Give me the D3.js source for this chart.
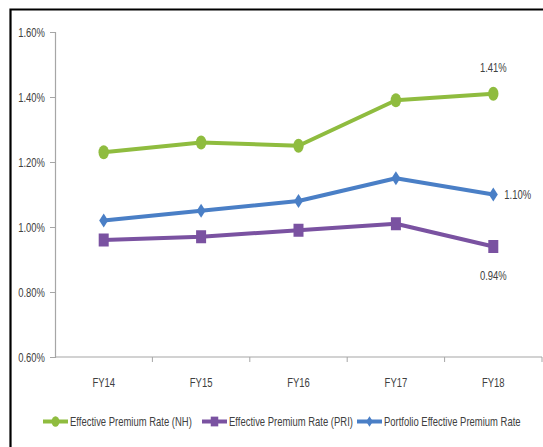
<!DOCTYPE html>
<html>
<head>
<meta charset="utf-8">
<script src="https://cdn.jsdelivr.net/npm/d3@7"></script>
<style>
  html, body { margin: 0; padding: 0; background: #fff; }
  svg { display: block; }
  text { font-family: "Liberation Sans", Arial, sans-serif; fill: #404040; }
</style>
</head>
<body>
<svg id="chart" width="543" height="447"></svg>
<script>
// Fiscal years on the category axis
const years = ["FY14", "FY15", "FY16", "FY17", "FY18"];
// Effective premium rates, in percent
const rateNH = [1.23, 1.26, 1.25, 1.39, 1.41];
const ratePRI = [0.96, 0.97, 0.99, 1.01, 0.94];
const ratePortfolio = [1.02, 1.05, 1.08, 1.15, 1.10];
// Value axis ticks
const yTicks = [0.6, 0.8, 1.0, 1.2, 1.4, 1.6];

const seriesList = [
  { name: "Effective Premium Rate (NH)", values: rateNH, color: "#8fbc3f", marker: "circle" },
  { name: "Effective Premium Rate (PRI)", values: ratePRI, color: "#7a52a1", marker: "square" },
  { name: "Portfolio Effective Premium Rate", values: ratePortfolio, color: "#4a7fc6", marker: "diamond" }
];

const svg = d3.select("#chart");
const FONT = 12.8;
const NARROW = 0.74;   // condensed text look

// condensed label: horizontally scaled text placed at (px, py)
function label(parent, px, py, str, anchor) {
  return parent.append("text")
    .attr("transform", `translate(${px},${py}) scale(${NARROW},1)`)
    .attr("text-anchor", anchor || "start")
    .attr("font-size", FONT)
    .text(str);
}

// Outer frame (left and top edges visible)
svg.append("path")
  .attr("d", "M10.5,447 L10.5,9.5 L543,9.5")
  .attr("fill", "none").attr("stroke", "#000").attr("stroke-width", 2.2);

const x = d3.scaleBand().domain(years).range([55, 542]);
const y = d3.scaleLinear().domain([0.6, 1.6]).range([357, 32]);
const cx = d => x(d) + x.bandwidth() / 2;
const pct = v => d3.format(".2f")(v) + "%";

// Y axis: line and ticks from d3, labels condensed
const yAxis = svg.append("g").attr("transform", "translate(55,0)")
  .call(d3.axisLeft(y).tickValues(yTicks).tickSize(5).tickFormat(""));
yAxis.select(".domain").attr("stroke", "#a6a6a6").attr("stroke-width", 1.2);
yAxis.selectAll(".tick line").attr("stroke", "#a6a6a6");
yTicks.forEach(t => label(svg, 45, y(t) + 4.5, pct(t), "end"));

// X axis with ticks at band boundaries
const xAxisG = svg.append("g").attr("transform", "translate(0,357)");
xAxisG.append("line").attr("x1", 55).attr("x2", 542).attr("y1", 0).attr("y2", 0)
  .attr("stroke", "#a6a6a6").attr("stroke-width", 1.2);
years.forEach(yr => {
  const bx = x(yr) + x.bandwidth();
  xAxisG.append("line").attr("x1", bx).attr("x2", bx).attr("y1", 0).attr("y2", 5)
    .attr("stroke", "#a6a6a6");
  label(svg, cx(yr), 357 + 29.5, yr, "middle");
});

// Marker drawing
function drawMarker(g, type, px, py, color, scale) {
  const s = scale || 1;
  if (type === "circle") {
    g.append("ellipse").attr("cx", px).attr("cy", py).attr("rx", 5.2 * s).attr("ry", 7 * s).attr("fill", color);
  } else if (type === "square") {
    g.append("rect").attr("x", px - 5 * s).attr("y", py - 6.5 * s).attr("width", 10 * s).attr("height", 13 * s).attr("fill", color);
  } else {
    g.append("path").attr("d", `M${px},${py - 7 * s} L${px + 4.5 * s},${py} L${px},${py + 7 * s} L${px - 4.5 * s},${py} Z`).attr("fill", color);
  }
}

const line = d3.line().x((d, i) => cx(years[i])).y(d => y(d));

seriesList.forEach(s => {
  const g = svg.append("g");
  g.append("path").datum(s.values).attr("d", line)
    .attr("fill", "none").attr("stroke", s.color).attr("stroke-width", 4).attr("stroke-linejoin", "round");
  s.values.forEach((v, i) => drawMarker(g, s.marker, cx(years[i]), y(v), s.color));
});

// Data labels on the last point
const last = years.length - 1;
const lx = cx(years[last]);
label(svg, lx, y(rateNH[last]) - 22, pct(rateNH[last]), "middle");
label(svg, lx + 11, y(ratePortfolio[last]) + 4.5, pct(ratePortfolio[last]), "start");
label(svg, lx, y(ratePRI[last]) + 33, pct(ratePRI[last]), "middle");

// Legend
const legendX = [43, 202, 357];
const legendY = 421.5;
seriesList.forEach((s, i) => {
  const g = svg.append("g");
  const x0 = legendX[i];
  g.append("line").attr("x1", x0).attr("x2", x0 + 25).attr("y1", legendY).attr("y2", legendY)
    .attr("stroke", s.color).attr("stroke-width", 4);
  drawMarker(g, s.marker, x0 + 12.5, legendY, s.color, 0.75);
  label(g, x0 + 27, legendY + 4.5, s.name, "start");
});
</script>
</body>
</html>
